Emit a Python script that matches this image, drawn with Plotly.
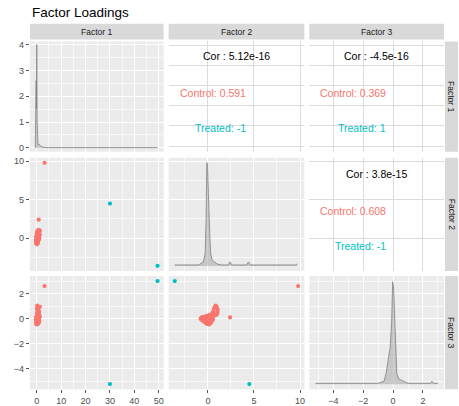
import plotly.graph_objects as go

# ---------------- data ----------------
factors = ["Factor 1", "Factor 2", "Factor 3"]

# Control group loadings (F1, F2, F3)
ctrl_f1 = [0.10, -0.20, 0.30, 0.00, 0.50, -0.10, 0.20, 0.40, -0.30, 0.10, 0.00, 0.60, -0.20, 0.20,
           0.80, -0.10, 0.30, 0.50, 0.00, 0.90, -0.20, 0.10, 0.40, 1.00, 0.20, -0.10, 0.70, 0.30,
           0.00, 0.20, 0.50, -0.20, 0.60, 1.10, 0.10, 0.40, 0.30, 0.80, 0.00, 0.20, 1.20, 0.50,
           0.30, 0.90, 0.10, 0.40, 0.20, 1.30, 0.60, 1.00, 0.70, 0.30, 0.50, 0.80, 0.80, 3.20]
ctrl_f2 = [-0.80, -0.70, -0.70, -0.60, -0.60, -0.50, -0.50, -0.40, -0.40, -0.40, -0.30, -0.30, -0.30,
           -0.20, -0.20, -0.20, -0.20, -0.10, -0.10, -0.10, -0.10, 0.00, 0.00, 0.00, 0.00, 0.10, 0.10,
           0.10, 0.10, 0.20, 0.20, 0.20, 0.20, 0.30, 0.30, 0.30, 0.40, 0.40, 0.40, 0.50, 0.50, 0.50,
           0.60, 0.60, 0.65, 0.75, 0.85, 0.95, 1.05, 1.05, 1.00, 0.85, 0.70, 0.55, 2.40, 9.80]
ctrl_f3 = [0.00, 0.08, -0.08, 0.12, -0.12, 0.05, -0.18, 0.15, -0.05, -0.25, 0.10, -0.15, -0.30, 0.20,
           0.00, -0.20, -0.35, 0.12, -0.08, -0.30, -0.42, 0.25, 0.05, -0.15, -0.35, 0.15, -0.05, -0.25,
           -0.45, 0.30, 0.05, -0.20, -0.40, 0.20, -0.10, -0.35, 0.35, 0.05, -0.25, 0.45, 0.15, -0.10,
           0.60, 0.30, 0.80, 0.95, 1.05, 0.95, 0.75, 0.55, 0.38, 0.28, 0.35, 0.00, 0.10, 2.60]

# Treated group loadings
trt_f1 = [30.0, 49.5]
trt_f2 = [4.5, -3.6]
trt_f3 = [-5.2, 3.0]

# Diagonal densities
dens1_x = [-0.6, -0.4, -0.25, -0.15, 0.0, 0.15, 0.3, 0.5, 0.8, 1.1, 1.5, 2.0, 3.0, 5.0, 30.0, 49.5]
dens1_y = [0.0, 2.6, 2.6, 1.5, 4.0, 1.0, 0.3, 0.12, 0.15, 0.10, 0.08, 0.04, 0.02, 0.01, 0.01, 0.01]
dens2_x = [-3.6, -1.0, -0.5, -0.3, -0.2, -0.12, -0.05, 0.05, 0.12, 0.2, 0.3, 0.45, 0.7, 1.0, 1.5,
           2.2, 2.4, 2.6, 4.2, 4.4, 4.6, 9.5, 9.7]
dens2_y = [0.01, 0.01, 0.04, 0.12, 0.45, 1.0, 0.98, 0.7, 0.45, 0.3, 0.12, 0.06, 0.04, 0.02, 0.01,
           0.01, 0.04, 0.01, 0.01, 0.04, 0.01, 0.01, 0.02]
dens3_x = [-5.2, -1.0, -0.6, -0.45, -0.3, -0.2, -0.1, -0.03, 0.03, 0.1, 0.18, 0.25, 0.4, 0.7, 1.0,
           2.5, 2.6, 2.7, 3.0]
dens3_y = [0.01, 0.01, 0.03, 0.12, 0.27, 0.35, 0.6, 1.0, 0.95, 0.7, 0.3, 0.1, 0.05, 0.03, 0.01,
           0.01, 0.03, 0.01, 0.01]

# Correlation texts
cor_overall = {(0, 1): "5.12e-16", (0, 2): "-4.5e-16", (1, 2): "3.8e-15"}
cor_control = {(0, 1): "0.591", (0, 2): "0.369", (1, 2): "0.608"}
cor_treated = {(0, 1): "-1", (0, 2): "1", (1, 2): "-1"}

# ---------------- style ----------------
W, H = 459, 406
C_CTRL = "#F8766D"
C_TRT = "#00BFC4"
FONT = "Liberation Sans, Arial, sans-serif"

col_px = [(30, 164), (169, 305), (310, 445)]
row_px = [(40, 152), (158, 273), (278, 393)]

var_range = [[-2.8, 52.0], [-4.27, 10.47], [-5.61, 3.41]]
var_dtick = [10, 5, 2]
var_minor = [5, 2.5, 1]

def xdom(c):
    a, b = col_px[c]
    return [a / W, b / W]

def ydom(r):
    a, b = row_px[r]
    return [1 - b / H, 1 - a / H]

fig = go.Figure()
layout = dict(
    width=W, height=H, margin=dict(l=0, r=0, t=0, b=0),
    paper_bgcolor="white", plot_bgcolor="rgba(0,0,0,0)",
    showlegend=False, font=dict(family=FONT, color="#4D4D4D"),
)

def base_axis(rng, dtick, minor, upper):
    d = dict(range=rng, dtick=dtick, tick0=0, showgrid=True, zeroline=False,
             showline=False, fixedrange=True, showticklabels=False, ticks="")
    if upper:
        d["gridcolor"] = "#DCDCDC"
        d["gridwidth"] = 1
    else:
        d["gridcolor"] = "#FFFFFF"
        d["gridwidth"] = 1.1
        d["minor"] = dict(dtick=minor, tick0=0, showgrid=True, gridcolor="#F8F8F8", gridwidth=0.7)
    return d

shapes = []
annotations = []

for r in range(3):
    for c in range(3):
        n = r * 3 + c + 1
        upper = c > r
        xa = base_axis(var_range[c], var_dtick[c], var_minor[c], upper)
        if r == 0 and c == 0:
            ya = base_axis([-0.15, 4.12], 1, 0.5, False)
        elif r == 0:
            ya = base_axis(var_range[0], var_dtick[0], var_minor[0], upper)
        else:
            ya = base_axis(var_range[r], var_dtick[r], var_minor[r], upper)
        xa["domain"] = xdom(c)
        xa["anchor"] = "y%d" % n
        ya["domain"] = ydom(r)
        ya["anchor"] = "x%d" % n
        if r == 2:
            xa.update(showticklabels=True, ticks="outside", ticklen=3, tickwidth=1,
                      tickcolor="#555555", tickfont=dict(size=9, color="#4D4D4D"))
        if c == 0:
            ya.update(showticklabels=True, ticks="outside", ticklen=3, tickwidth=1,
                      tickcolor="#555555", tickfont=dict(size=9, color="#4D4D4D"))
        layout["xaxis%d" % n] = xa
        layout["yaxis%d" % n] = ya
        # panel background
        x0, x1 = col_px[c]
        y0, y1 = row_px[r]
        shapes.append(dict(type="rect", xref="paper", yref="paper", layer="below",
                           x0=x0 / W, x1=x1 / W, y0=1 - y1 / H, y1=1 - y0 / H,
                           fillcolor="white" if upper else "#EBEBEB", line=dict(width=0)))
        # placeholder trace so the subplot is drawn
        fig.add_trace(go.Scatter(x=[], y=[], xaxis="x%d" % n, yaxis="y%d" % n,
                                 hoverinfo="skip"))

# overlay density axes for diag panels 5 and 9
layout["yaxis10"] = dict(overlaying="y5", anchor="x5", range=[-0.048, 1.048], visible=False,
                         fixedrange=True)
layout["yaxis11"] = dict(overlaying="y9", anchor="x9", range=[-0.048, 1.058], visible=False,
                         fixedrange=True)

dens_line = dict(color="#808080", width=0.8)
dens_fill = "rgba(150,150,150,0.45)"
fig.add_trace(go.Scatter(x=dens1_x, y=dens1_y, xaxis="x1", yaxis="y1", mode="lines",
                         line=dens_line, fill="tozeroy", fillcolor=dens_fill))
fig.add_trace(go.Scatter(x=dens2_x, y=dens2_y, xaxis="x5", yaxis="y10", mode="lines",
                         line=dens_line, fill="tozeroy", fillcolor=dens_fill))
fig.add_trace(go.Scatter(x=dens3_x, y=dens3_y, xaxis="x9", yaxis="y11", mode="lines",
                         line=dens_line, fill="tozeroy", fillcolor=dens_fill))

ctrl = [ctrl_f1, ctrl_f2, ctrl_f3]
trt = [trt_f1, trt_f2, trt_f3]
for r in range(3):
    for c in range(3):
        if c < r:
            n = r * 3 + c + 1
            fig.add_trace(go.Scatter(x=ctrl[c], y=ctrl[r], xaxis="x%d" % n, yaxis="y%d" % n,
                                     mode="markers",
                                     marker=dict(color=C_CTRL, size=4.2, line=dict(width=0))))
            fig.add_trace(go.Scatter(x=trt[c], y=trt[r], xaxis="x%d" % n, yaxis="y%d" % n,
                                     mode="markers",
                                     marker=dict(color=C_TRT, size=4.2, line=dict(width=0))))

# correlation texts in upper panels
for (r, c), v in cor_overall.items():
    n = r * 3 + c + 1
    ys = [0.866, 0.536, 0.214] if r == 0 else [0.852, 0.53, 0.217]
    annotations.append(dict(xref="x%d domain" % n, yref="y%d domain" % n, x=0.5, y=ys[0],
                            text="Cor : " + v, showarrow=False, xanchor="center",
                            yanchor="middle", font=dict(size=10.5, color="black")))
    annotations.append(dict(xref="x%d domain" % n, yref="y%d domain" % n, x=0.585, y=ys[1],
                            text="Control: " + cor_control[(r, c)], showarrow=False,
                            xanchor="right", yanchor="middle",
                            font=dict(size=10.5, color=C_CTRL)))
    annotations.append(dict(xref="x%d domain" % n, yref="y%d domain" % n, x=0.585, y=ys[2],
                            text="Treated: " + cor_treated[(r, c)], showarrow=False,
                            xanchor="right", yanchor="middle",
                            font=dict(size=10.5, color=C_TRT)))

# strips
for i, name in enumerate(factors):
    x0, x1 = col_px[i]
    shapes.append(dict(type="rect", xref="paper", yref="paper", layer="below",
                       x0=x0 / W, x1=x1 / W, y0=1 - 38 / H, y1=1 - 22 / H,
                       fillcolor="#D9D9D9", line=dict(width=0)))
    annotations.append(dict(xref="paper", yref="paper", x=(x0 + x1) / 2 / W, y=1 - 30 / H,
                            text=name, showarrow=False, xanchor="center", yanchor="middle",
                            font=dict(size=8.5, color="#1A1A1A")))
    y0, y1 = row_px[i]
    shapes.append(dict(type="rect", xref="paper", yref="paper", layer="below",
                       x0=446 / W, x1=1.0, y0=1 - y1 / H, y1=1 - y0 / H,
                       fillcolor="#D9D9D9", line=dict(width=0)))
    annotations.append(dict(xref="paper", yref="paper", x=452.5 / W, y=1 - (y0 + y1) / 2 / H,
                            text=name, showarrow=False, xanchor="center", yanchor="middle",
                            textangle=90, font=dict(size=8.5, color="#1A1A1A")))

# title
annotations.append(dict(xref="paper", yref="paper", x=30 / W, y=1 - 11 / H,
                        text="Factor Loadings", showarrow=False, xanchor="left",
                        yanchor="middle", font=dict(size=13.5, color="black")))

layout["shapes"] = shapes
layout["annotations"] = annotations
fig.update_layout(**layout)
fig.write_html("out.html")
